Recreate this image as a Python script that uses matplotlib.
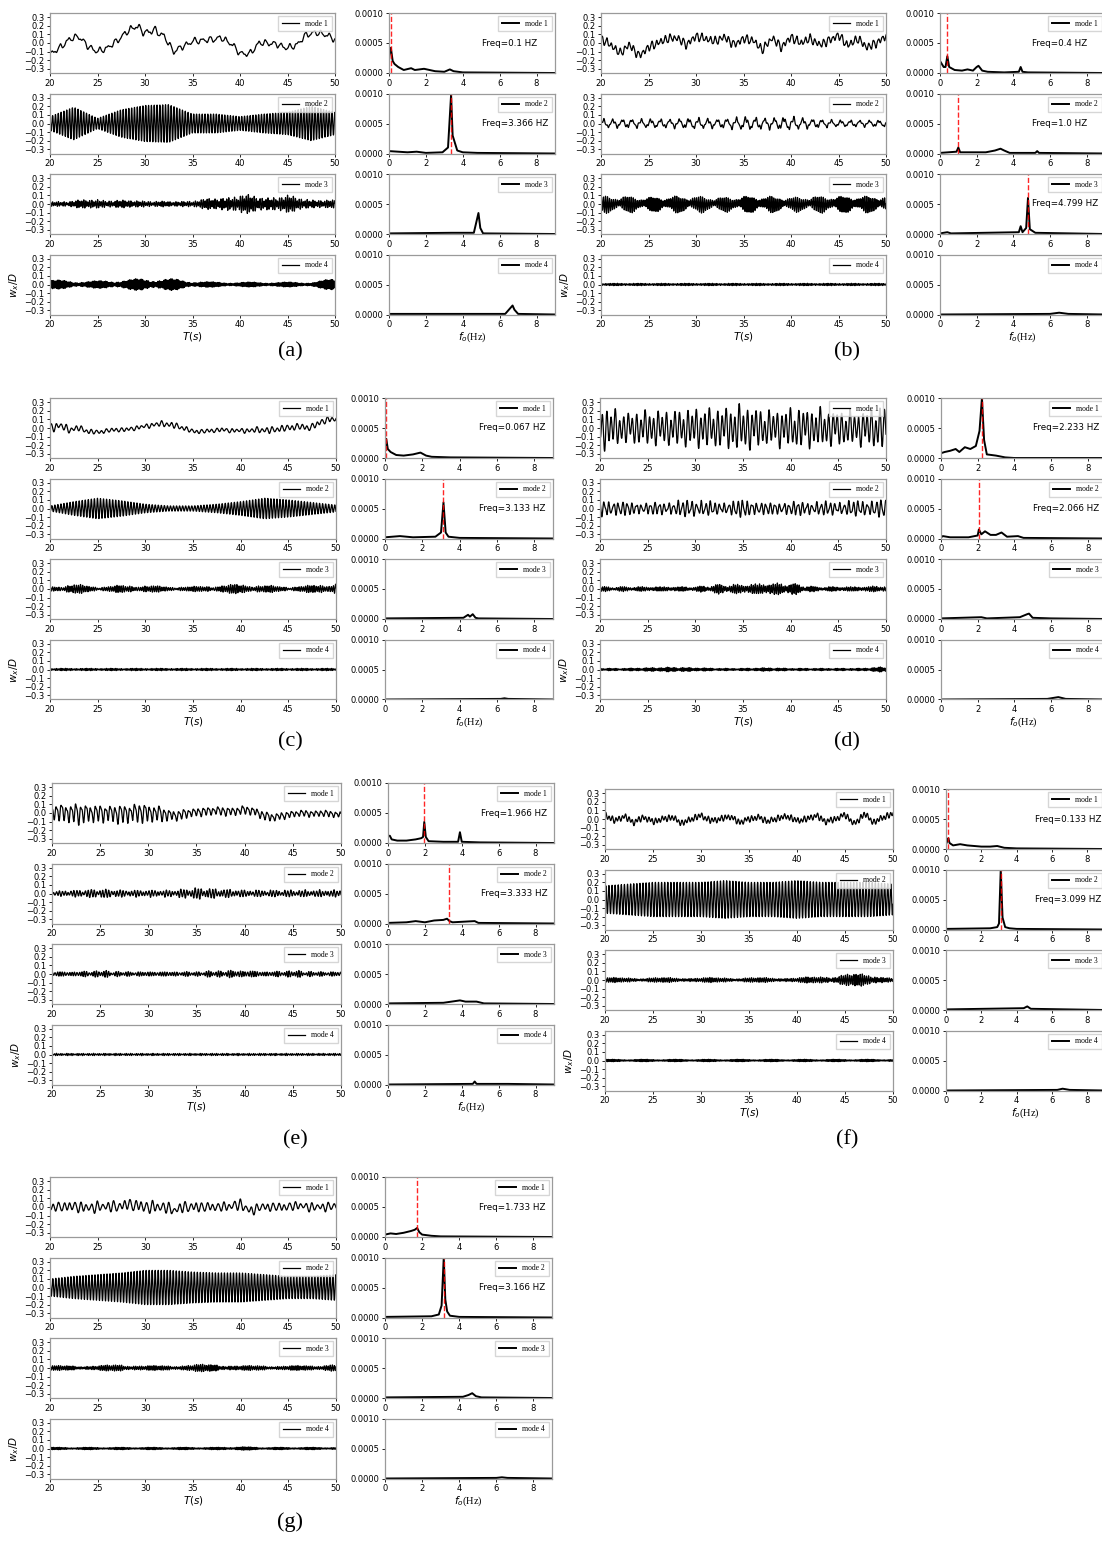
import numpy as np
import matplotlib
matplotlib.use("Agg")
import matplotlib.pyplot as plt

# modal displacement histories (w_x/D) and their spectra, cases (a)-(g)
t = np.arange(20, 50.001, 0.01)
t_env = np.arange(20, 50.001, 2.5)   # envelope readings every 2.5 s
t_base = np.arange(20, 50.001, 1.0)  # slow drift readings every 1 s

# ---- case (a)
a_base = [-0.13, -0.06, 0.04, 0.08, -0.04, -0.10, -0.06, 0.02, 0.12, 0.20, 0.12,
          0.15, 0.08, -0.10, -0.04, 0.02, 0.03, 0.04, 0.06, 0.00, -0.12, -0.13,
          0.00, 0.00, -0.02, -0.06, -0.02, 0.10, 0.12, 0.10, 0.04]
a_env = [[0.03, 0.03, 0.03, 0.03, 0.04, 0.03, 0.03, 0.03, 0.03, 0.03, 0.03, 0.03, 0.03],
         [0.08, 0.19, 0.06, 0.16, 0.21, 0.22, 0.11, 0.11, 0.08, 0.11, 0.13, 0.20, 0.13],
         [0.02, 0.03, 0.04, 0.03, 0.03, 0.02, 0.03, 0.05, 0.08, 0.06, 0.07, 0.04, 0.03],
         [0.04, 0.03, 0.03, 0.04, 0.05, 0.05, 0.03, 0.02, 0.02, 0.02, 0.02, 0.02, 0.05]]
a_comps = [[1.2, 1.9, 3.4, 0.7], [3.366], [4.85, 3.4, 4.62, 5.3], [6.7, 6.45, 5.1, 6.95]]
a_spec = [[(0, 2), (0.05, 4), (0.1, 4.2), (0.2, 2), (0.3, 1.5), (0.5, 1), (0.8, 0.5), (1.2, 0.8),
           (1.4, 0.5), (1.9, 0.7), (2.5, 0.3), (3.0, 0.2), (3.3, 0.6), (3.5, 0.3), (4, 0.1), (9, 0)],
          [(0, 0.4), (1, 0.2), (1.5, 0.3), (2, 0.1), (2.9, 0.2), (3.2, 1), (3.366, 9.8), (3.45, 3),
           (3.55, 2), (3.7, 0.5), (4, 0.2), (4.8, 0.1), (9, 0)],
          [(0, 0.1), (3.4, 0.2), (4.6, 0.2), (4.85, 3.5), (4.95, 1), (5.1, 0.1), (9, 0)],
          [(0, 0.1), (6.3, 0.1), (6.5, 0.8), (6.7, 1.5), (6.8, 0.8), (7.0, 0.1), (9, 0)]]
a_freq = [0.1, 3.366, None, None]

# ---- case (b)
b_base = [0.05, -0.02, -0.12, -0.02, -0.15, -0.05, 0.00, 0.05, 0.06, -0.02, 0.08,
          0.05, 0.02, 0.07, -0.02, 0.05, 0.03, -0.08, 0.06, -0.05, 0.07, 0.00,
          0.05, -0.02, 0.03, 0.09, -0.03, 0.05, -0.05, 0.00, 0.08]
b_env = [[0.04, 0.04, 0.04, 0.04, 0.04, 0.04, 0.04, 0.04, 0.04, 0.04, 0.04, 0.04, 0.04],
         [0.04, 0.04, 0.04, 0.04, 0.05, 0.04, 0.06, 0.05, 0.06, 0.04, 0.03, 0.03, 0.03],
         [0.07, 0.07, 0.06, 0.07, 0.07, 0.06, 0.07, 0.07, 0.06, 0.07, 0.07, 0.07, 0.07],
         [0.01, 0.01, 0.01, 0.01, 0.01, 0.01, 0.01, 0.01, 0.01, 0.01, 0.01, 0.01, 0.01]]
b_comps = [[2.1, 1.5, 4.4, 0.9], [1.0, 3.3, 2.5, 5.3], [4.799, 4.4, 0.4, 3.7, 5.2], [6.5, 4.1, 6.9]]
b_spec = [[(0, 2), (0.1, 1.5), (0.2, 1), (0.3, 1), (0.4, 2.8), (0.5, 1), (0.8, 0.5), (1.2, 0.4),
           (1.5, 0.6), (1.8, 0.4), (2.0, 1), (2.1, 1.2), (2.3, 0.4), (2.6, 0.2), (3.5, 0.1),
           (4.3, 0.2), (4.4, 1), (4.5, 0.2), (4.8, 0.1), (9, 0)],
          [(0, 0.1), (0.9, 0.3), (1.0, 1), (1.1, 0.2), (2.5, 0.2), (3.0, 0.5), (3.3, 0.8),
           (3.5, 0.5), (3.8, 0.1), (5.2, 0.1), (5.3, 0.4), (5.4, 0.1), (9, 0)],
          [(0, 0.1), (0.4, 0.3), (0.6, 0.1), (4.3, 0.3), (4.4, 1.3), (4.5, 0.3), (4.7, 1),
           (4.799, 6), (4.9, 0.8), (5.2, 0.2), (9, 0)],
          [(0, 0), (6, 0.1), (6.5, 0.3), (7, 0.1), (9, 0)]]
b_freq = [0.4, 1.0, 4.799, None]

# ---- case (c)
c_base = [0.00, 0.03, -0.02, 0.00, -0.04, -0.05, -0.03, -0.02, -0.02, 0.00, 0.02,
          0.04, 0.05, 0.03, 0.00, -0.04, -0.04, -0.03, -0.02, -0.03, -0.03, -0.03,
          -0.02, -0.03, -0.01, 0.00, 0.02, 0.00, 0.04, 0.10, 0.10]
c_env = [[0.04, 0.03, 0.02, 0.02, 0.02, 0.03, 0.02, 0.02, 0.02, 0.03, 0.03, 0.03, 0.03],
         [0.03, 0.08, 0.12, 0.09, 0.05, 0.03, 0.03, 0.05, 0.08, 0.12, 0.10, 0.07, 0.04],
         [0.02, 0.04, 0.02, 0.03, 0.03, 0.02, 0.02, 0.03, 0.04, 0.03, 0.02, 0.03, 0.05],
         [0.01, 0.01, 0.01, 0.01, 0.01, 0.01, 0.01, 0.01, 0.01, 0.01, 0.01, 0.01, 0.01]]
c_comps = [[1.9, 1.2, 0.6, 2.7], [3.133], [4.45, 4.7, 3.1, 5.2], [6.3, 4.4, 6.7]]
c_spec = [[(0, 1), (0.03, 3), (0.067, 3.2), (0.15, 1.5), (0.3, 1), (0.6, 0.5), (1.0, 0.4),
           (1.5, 0.6), (1.9, 0.9), (2.2, 0.4), (2.5, 0.2), (3.5, 0.1), (9, 0)],
          [(0, 0.2), (0.8, 0.4), (1.5, 0.2), (2.7, 0.3), (3.0, 1), (3.133, 6), (3.25, 1),
           (3.4, 0.3), (4, 0.1), (9, 0)],
          [(0, 0.1), (4.2, 0.2), (4.45, 0.7), (4.55, 0.4), (4.7, 0.8), (4.85, 0.2), (5, 0.1), (9, 0)],
          [(0, 0), (6.2, 0.1), (6.4, 0.2), (6.6, 0.1), (9, 0)]]
c_freq = [0.067, 3.133, None, None]

# ---- case (d)
d_base = None
d_env = [[0.21, 0.14, 0.16, 0.16, 0.18, 0.18, 0.21, 0.16, 0.18, 0.18, 0.16, 0.16, 0.21],
         [0.08, 0.06, 0.05, 0.06, 0.08, 0.05, 0.08, 0.05, 0.06, 0.06, 0.06, 0.07, 0.08],
         [0.02, 0.02, 0.02, 0.02, 0.02, 0.04, 0.04, 0.05, 0.05, 0.02, 0.02, 0.02, 0.03],
         [0.01, 0.01, 0.015, 0.02, 0.015, 0.01, 0.01, 0.015, 0.01, 0.01, 0.01, 0.01, 0.025]]
d_comps = [[2.233, 1.3, 0.6], [2.066, 3.3, 2.4, 4.2, 0.9], [4.8, 4.3, 2.2, 5.4], [6.4, 5.1, 6.9]]
d_spec = [[(0, 0.8), (0.2, 1), (0.5, 1.2), (0.8, 1.5), (1.0, 1), (1.3, 1.8), (1.6, 1.5),
           (1.9, 2), (2.1, 4.5), (2.233, 10), (2.35, 3), (2.5, 0.6), (3, 0.4), (3.5, 0.1),
           (4, 0), (9, 0)],
          [(0, 0.2), (0.1, 0.4), (0.5, 0.2), (1.5, 0.2), (2.0, 0.5), (2.066, 1.5), (2.2, 0.7),
           (2.4, 1.2), (2.7, 0.6), (3.0, 0.6), (3.3, 1), (3.6, 0.3), (4.2, 0.4), (4.5, 0.1), (9, 0)],
          [(0, 0.1), (2.2, 0.3), (2.5, 0.1), (4.3, 0.3), (4.7, 0.8), (4.8, 0.9), (5.0, 0.2),
           (6, 0.1), (9, 0)],
          [(0, 0), (5.8, 0.1), (6.4, 0.4), (6.8, 0.1), (9, 0)]]
d_freq = [2.233, 2.066, None, None]

# ---- case (e)
e_base = [0.02, 0.01, 0.00, 0.00, 0.00, 0.00, 0.00, -0.01, 0.00, 0.01, 0.00,
          0.00, -0.02, -0.03, 0.00, 0.01, 0.02, 0.03, 0.02, 0.02, 0.04, 0.02,
          -0.03, -0.05, -0.03, -0.01, 0.00, -0.01, 0.00, -0.01, -0.02]
e_env = [[0.07, 0.10, 0.08, 0.09, 0.09, 0.05, 0.04, 0.04, 0.04, 0.04, 0.03, 0.03, 0.03],
         [0.02, 0.03, 0.04, 0.03, 0.03, 0.03, 0.05, 0.04, 0.03, 0.03, 0.03, 0.03, 0.03],
         [0.02, 0.02, 0.03, 0.02, 0.02, 0.02, 0.02, 0.03, 0.03, 0.02, 0.03, 0.02, 0.02],
         [0.01, 0.01, 0.01, 0.01, 0.01, 0.01, 0.01, 0.01, 0.01, 0.01, 0.01, 0.01, 0.01]]
e_comps = [[1.966, 3.93, 0.8, 1.5], [3.333, 2.7, 1.4, 4.7], [3.95, 4.8, 3.0, 4.4], [4.7, 6.5, 3.9]]
e_spec = [[(0, 1.2), (0.1, 1.2), (0.2, 0.6), (0.5, 0.4), (1.0, 0.4), (1.5, 0.6), (1.8, 0.8),
           (1.9, 1), (1.966, 3.5), (2.05, 1), (2.2, 0.3), (3.0, 0.2), (3.8, 0.2), (3.9, 1.8),
           (4.0, 0.2), (5, 0.1), (9, 0)],
          [(0, 0.1), (1.0, 0.2), (1.5, 0.4), (2.0, 0.2), (2.5, 0.5), (3.0, 0.6), (3.2, 0.8),
           (3.333, 0.4), (3.5, 0.2), (4.7, 0.4), (4.9, 0.1), (9, 0)],
          [(0, 0.1), (3, 0.2), (3.9, 0.6), (4.2, 0.4), (4.8, 0.4), (5.2, 0.1), (9, 0)],
          [(0, 0), (4.6, 0.1), (4.7, 0.5), (4.8, 0.1), (6.5, 0.1), (9, 0)]]
e_freq = [1.966, 3.333, None, None]

# ---- case (f)
f_base = [0.05, -0.02, 0.03, -0.04, 0.02, -0.03, 0.00, 0.02, -0.05, 0.00, 0.04,
          -0.02, 0.00, 0.03, -0.04, 0.00, 0.02, -0.03, 0.01, 0.03, -0.02, 0.00,
          0.04, -0.03, 0.00, 0.05, -0.06, 0.06, -0.04, 0.02, 0.06]
f_env = [[0.03, 0.03, 0.03, 0.03, 0.03, 0.03, 0.03, 0.03, 0.03, 0.03, 0.03, 0.03, 0.03],
         [0.16, 0.18, 0.20, 0.20, 0.20, 0.22, 0.20, 0.20, 0.22, 0.20, 0.20, 0.20, 0.18],
         [0.02, 0.02, 0.02, 0.02, 0.02, 0.02, 0.02, 0.02, 0.02, 0.03, 0.05, 0.05, 0.02],
         [0.01, 0.01, 0.01, 0.01, 0.01, 0.01, 0.01, 0.01, 0.01, 0.01, 0.01, 0.01, 0.01]]
f_comps = [[2.9, 1.5, 0.8, 2.2], [3.099], [4.6, 4.4, 3.2, 5.1], [6.6, 6.3, 4.9]]
f_spec = [[(0, 0.8), (0.1, 1.5), (0.133, 1.8), (0.2, 1), (0.4, 0.6), (0.8, 0.8), (1.2, 0.6),
           (1.6, 0.5), (2.0, 0.4), (2.5, 0.4), (2.9, 0.5), (3.3, 0.2), (4, 0.1), (9, 0)],
          [(0, 0.1), (2.5, 0.2), (2.9, 0.4), (3.0, 1), (3.099, 10), (3.2, 2), (3.35, 0.4),
           (3.6, 0.2), (4, 0.1), (9, 0)],
          [(0, 0.1), (4.4, 0.3), (4.6, 0.6), (4.8, 0.2), (9, 0)],
          [(0, 0), (6.3, 0.1), (6.6, 0.3), (7, 0.1), (9, 0)]]
f_freq = [0.133, 3.099, None, None]

# ---- case (g)
g_base = [0.00, 0.00, 0.01, 0.00, -0.01, 0.00, 0.01, 0.00, 0.03, 0.02, 0.00,
          0.00, 0.00, -0.04, 0.00, 0.00, 0.00, 0.00, 0.00, 0.01, 0.03, -0.05,
          0.00, 0.00, 0.00, 0.00, 0.02, 0.00, 0.00, 0.00, 0.01]
g_env = [[0.04, 0.05, 0.05, 0.05, 0.06, 0.05, 0.05, 0.04, 0.05, 0.04, 0.04, 0.04, 0.04],
         [0.10, 0.13, 0.15, 0.17, 0.20, 0.20, 0.18, 0.17, 0.17, 0.15, 0.13, 0.13, 0.15],
         [0.02, 0.02, 0.02, 0.03, 0.02, 0.02, 0.03, 0.03, 0.02, 0.02, 0.02, 0.02, 0.04],
         [0.01, 0.01, 0.01, 0.01, 0.01, 0.01, 0.01, 0.01, 0.015, 0.01, 0.01, 0.01, 0.01]]
g_comps = [[1.733, 1.2, 2.4, 0.7], [3.166], [4.7, 4.5, 3.3, 5.3], [6.3, 6.0, 4.8]]
g_spec = [[(0, 0.4), (0.3, 0.6), (0.6, 0.5), (1.0, 0.7), (1.4, 1), (1.6, 1.2), (1.733, 1.5),
           (1.85, 0.8), (2.0, 0.4), (2.5, 0.2), (3, 0.1), (9, 0)],
          [(0, 0.1), (2.5, 0.2), (2.9, 0.5), (3.05, 2), (3.166, 10), (3.25, 3), (3.35, 1),
           (3.5, 0.3), (4, 0.1), (9, 0)],
          [(0, 0.1), (4.2, 0.2), (4.5, 0.5), (4.7, 0.8), (4.9, 0.3), (5.2, 0.1), (9, 0)],
          [(0, 0), (6.0, 0.1), (6.3, 0.2), (6.6, 0.1), (9, 0)]]
g_freq = [1.733, 3.166, None, None]

cases = [
    ("(a)", a_base, a_env, a_comps, a_spec, a_freq),
    ("(b)", b_base, b_env, b_comps, b_spec, b_freq),
    ("(c)", c_base, c_env, c_comps, c_spec, c_freq),
    ("(d)", d_base, d_env, d_comps, d_spec, d_freq),
    ("(e)", e_base, e_env, e_comps, e_spec, e_freq),
    ("(f)", f_base, f_env, f_comps, f_spec, f_freq),
    ("(g)", g_base, g_env, g_comps, g_spec, g_freq),
]

# pixel placement of each block: time axes x-range, spectrum x-range, top row y, label centre
W, H = 1102, 1542
blocks = [
    dict(tx=(50, 335), sx=(389, 555), top=13, lab=(290, 352)),
    dict(tx=(601, 886), sx=(940, 1105), top=13, lab=(847, 352)),
    dict(tx=(50, 336), sx=(385, 553), top=398, lab=(290, 742)),
    dict(tx=(600, 886), sx=(941, 1106), top=398, lab=(847, 742)),
    dict(tx=(52, 341), sx=(388, 554), top=783, lab=(295, 1140)),
    dict(tx=(605, 893), sx=(946, 1105), top=789, lab=(847, 1140)),
    dict(tx=(50, 336), sx=(385, 552), top=1177, lab=(290, 1522)),
]
ROW_H, ROW_STEP = 60, 80.5

SERIF = "Liberation Serif"
TICK = 6.0
SPINE = "#9a9a9a"


def rect(x0, x1, y0, y1):
    return [x0 / W, 1 - y1 / H, (x1 - x0) / W, (y1 - y0) / H]


def trace(base, env, comps):
    # oscillation built from the listed frequencies, scaled to the read envelope
    s = np.zeros_like(t)
    for k, f in enumerate(comps):
        s += np.sin(2 * np.pi * f * t + 1.3 * k) / (k + 1) ** 1.5
    s /= np.sqrt(2) * s.std()
    y = np.interp(t, t_env, env) * s
    if base is not None:
        y += np.interp(t, t_base, base)
    return y


def style(ax):
    for sp in ax.spines.values():
        sp.set_color(SPINE)
        sp.set_linewidth(0.9)
    ax.tick_params(labelsize=TICK, length=2.5, width=0.6, pad=1.5)


def add_legend(ax):
    ax.legend(loc="upper right", prop={"family": SERIF, "size": 5.5},
              handlelength=2.3, borderpad=0.45, borderaxespad=0.45,
              edgecolor="#cccccc", fancybox=False)


fig = plt.figure(figsize=(W / 100, H / 100), dpi=100)

for (label, base, env, comps, spec, freq), blk in zip(cases, blocks):
    for m in range(4):
        y0 = blk["top"] + m * ROW_STEP
        y1 = y0 + ROW_H

        # time history
        ax = fig.add_axes(rect(*blk["tx"], y0, y1))
        ax.plot(t, trace(base if m == 0 else None, env[m], comps[m]),
                color="k", lw=0.9, label=f"mode {m + 1}")
        ax.set_xlim(20, 50)
        ax.set_ylim(-0.35, 0.35)
        ax.set_xticks(np.arange(20, 51, 5))
        ax.set_yticks(np.round(np.arange(-0.3, 0.31, 0.1), 1))
        style(ax)
        add_legend(ax)
        if m == 3:
            ax.set_ylabel("$w_x/D$", fontsize=7.5, labelpad=2)
            ax.set_xlabel("$T(s)$", fontsize=7.5, labelpad=1)

        # amplitude spectrum
        ax = fig.add_axes(rect(*blk["sx"], y0, y1))
        fq = [p[0] for p in spec[m]]
        amp = [p[1] * 1e-4 for p in spec[m]]
        ax.plot(fq, amp, color="k", lw=1.4, label=f"mode {m + 1}")
        if freq[m] is not None:
            ax.axvline(freq[m], color="red", ls="--", lw=1.0, alpha=0.85)
            ax.text(0.56, 0.5, f"Freq={freq[m]} HZ", transform=ax.transAxes,
                    fontsize=6.3, va="center", ha="left")
        ax.set_xlim(0, 9)
        ax.set_ylim(0, 0.001)
        ax.set_xticks([0, 2, 4, 6, 8])
        ax.set_yticks([0, 0.0005, 0.001])
        ax.set_yticklabels(["0.0000", "0.0005", "0.0010"])
        style(ax)
        add_legend(ax)
        if m == 3:
            ax.set_xlabel("$f_o$(Hz)", fontsize=7.5, family=SERIF, labelpad=1)

    lx, ly = blk["lab"]
    fig.text(lx / W, 1 - ly / H, label, fontsize=16, family=SERIF,
             ha="center", va="center")

fig.savefig("out.png", dpi=100)
